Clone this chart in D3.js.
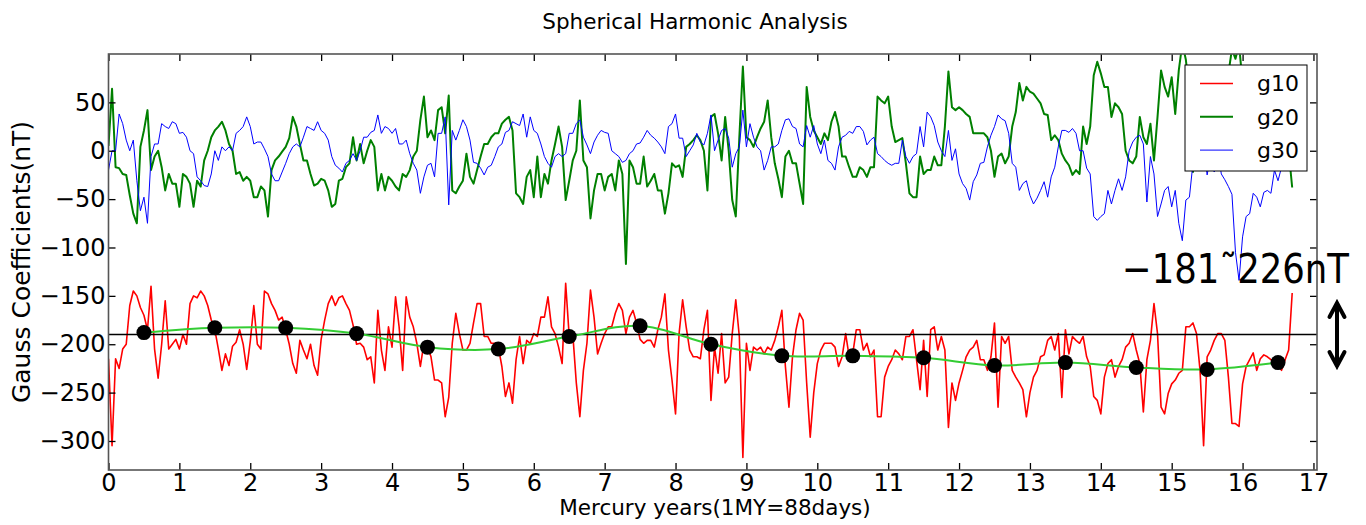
<!DOCTYPE html>
<html><head><meta charset="utf-8">
<script src="https://cdn.jsdelivr.net/npm/d3@7"></script>
<style>body{margin:0;background:#fff} svg{display:block} text{font-family:"DejaVu Sans",sans-serif}</style>
</head><body>
<svg id="chart" width="1366" height="525"></svg>
<script>
const title = "Spherical Harmonic Analysis";
const xLabel = "Mercury years(1MY=88days)";
const yLabel = "Gauss Coefficients(nT)";
const seriesNames = ["g10", "g20", "g30"];
const sampleStep = 0.05; // MY between samples, first sample at 0

const g10 = [
-215,-305,-215,-225,-205,-200,-160,-145,-150,-162,-170,-185,-140,-205,-235,-200,-155,-205,-200,-195,
-205,-190,-200,-158,-150,-152,-145,-150,-160,-175,-185,-205,-227,-210,-222,-202,-198,-185,-200,-226,
-197,-160,-200,-205,-145,-148,-158,-165,-175,-172,-185,-200,-220,-230,-196,-206,-215,-200,-222,-232,
-195,-175,-158,-150,-160,-152,-150,-158,-165,-180,-200,-199,-203,-216,-213,-240,-165,-206,-227,-182,
-203,-151,-182,-227,-151,-172,-182,-199,-223,-199,-203,-213,-237,-237,-240,-275,-255,-199,-168,-189,
-206,-206,-199,-178,-158,-158,-192,-192,-199,-199,-203,-223,-254,-240,-261,-216,-192,-220,-196,-199,
-189,-192,-172,-172,-151,-182,-189,-203,-220,-137,-192,-189,-240,-275,-227,-199,-144,-172,-210,-199,
-189,-182,-182,-168,-158,-165,-189,-172,-165,-178,-195,-199,-196,-196,-203,-185,-172,-148,-206,-237,
-272,-189,-154,-182,-206,-213,-213,-215,-185,-165,-258,-203,-230,-189,-240,-234,-189,-154,-192,-317,
-199,-227,-203,-206,-203,-210,-203,-206,-196,-182,-165,-223,-265,-213,-185,-168,-175,-240,-296,-250,
-220,-206,-199,-199,-199,-203,-223,-213,-189,-213,-210,-185,-185,-206,-199,-213,-206,-275,-275,-234,
-223,-216,-206,-210,-216,-192,-192,-185,-216,-247,-196,-254,-185,-182,-206,-192,-206,-286,-240,-258,
-240,-227,-213,-206,-203,-196,-216,-216,-227,-213,-178,-265,-192,-199,-192,-227,-234,-240,-247,-275,
-250,-234,-227,-213,-211,-196,-192,-206,-189,-255,-185,-210,-192,-196,-199,-192,-213,-223,-254,-258,
-272,-234,-220,-216,-234,-223,-216,-203,-199,-189,-206,-220,-270,-216,-196,-158,-189,-265,-272,-251,
-241,-237,-230,-227,-182,-182,-178,-189,-227,-305,-213,-206,-196,-189,-189,-196,-234,-282,-282,-285,
-241,-223,-216,-209,-227,-215,-211,-213,-216,-216,-220,-227,-216,-206,-147
];

const g20 = [
5,64,-17,-18,-24,-25,-46,-65,-75,4,21,42,-20,-6,0,-17,-41,-24,-34,-34,
-58,-24,-27,-34,-58,-31,-37,-10,0,14,21,25,30,21,7,0,-24,-22,-31,-27,
-31,-48,-48,-37,-41,-68,-20,-10,-6,-1,4,13,35,25,7,-10,-10,-24,-36,-34,
-29,-31,-41,-58,-55,-31,-29,-17,-13,14,-10,7,-13,0,11,4,-41,-24,-41,-27,
-31,-37,-41,-24,-27,-20,-6,0,32,56,14,21,11,42,45,18,57,-41,-44,-37,
-31,-3,-27,-34,-20,-6,7,7,14,18,18,28,32,35,21,-44,-48,-55,-27,-20,
-48,-6,-48,-24,-34,-10,7,25,4,-51,-31,-10,0,52,-10,-17,-70,-41,-24,-24,
-41,-27,-24,-41,-10,-24,-117,-10,-17,-34,-34,-6,-37,-31,-24,-41,-41,-65,-44,-13,
-17,-15,-27,4,7,11,16,11,0,-41,35,38,18,-10,35,0,-51,-68,14,87,
14,11,4,14,23,30,52,14,-13,-29,-48,-6,0,-13,-13,-34,-55,66,35,21,
14,7,18,11,30,40,25,-6,-6,-17,-27,-27,-17,-20,-27,-17,-17,56,52,49,
56,25,9,11,13,-13,-44,-48,-48,-6,-24,-20,-20,-6,-15,-15,25,82,45,42,
45,42,38,35,18,18,18,18,14,0,-27,-6,-3,-13,-6,25,40,70,52,66,
61,59,54,49,38,37,11,16,11,-3,-10,-15,-25,-20,-24,25,7,25,78,92,
80,66,66,35,49,45,38,0,-10,-13,-6,35,14,7,28,-10,35,83,66,56,
76,38,83,111,94,60,-22,20,45,30,55,40,60,50,70,55,80,105,95,110,
70,50,30,40,20,35,10,25,0,15,-5,10,-10,0,-38
];

const g30 = [
-20,0,0,38,28,11,0,11,-31,-62,-48,-75,-6,7,7,28,25,23,30,28,
18,19,14,0,-3,-27,-31,-36,-37,-24,0,-10,4,0,4,0,18,21,25,35,
25,7,9,9,2,-6,-24,-31,-31,-22,-13,-3,4,7,4,14,25,23,21,30,
21,18,11,-6,-15,-18,-22,-13,-10,-3,-10,0,14,14,19,21,37,18,25,23,
18,23,7,7,11,-3,-13,-20,-44,-27,-15,-13,-27,18,18,35,-56,21,11,21,
32,25,11,-12,-13,-18,-25,-17,-15,-6,4,7,19,21,30,28,26,38,14,35,
21,18,7,-6,-13,-17,-6,-3,-6,-3,18,18,28,32,14,6,-3,9,16,21,
19,18,0,-3,-6,-12,-10,-3,0,7,8,14,21,16,13,9,4,-3,25,28,
38,13,13,-6,0,6,18,9,6,18,37,0,11,21,23,13,-17,-3,4,42,
4,28,14,4,0,-20,-10,4,4,7,21,32,33,25,23,7,4,26,14,26,
7,-3,11,-10,-13,-20,4,14,16,20,18,25,25,20,6,11,14,-3,-6,-10,
-13,-15,-13,-13,11,-6,-13,-6,-3,25,4,40,35,26,9,0,-6,21,-10,2,
-24,-34,-39,-51,-32,-25,-13,-12,4,16,25,37,33,31,18,-13,-17,-41,-34,-31,
-46,-55,-49,-41,-32,-48,-27,-17,4,21,21,19,23,18,0,0,-18,-24,-68,-72,
-68,-65,-41,-55,-41,-29,-41,-27,0,9,14,16,7,-53,-6,-24,-68,-55,-41,-37,
-58,-41,-75,-93,-51,-48,-13,-20,-10,5,-25,-5,-22,0,-24,-30,-37,-45,-105,-134,
-89,-68,-65,-44,-48,-58,-43,-41,-44,-20,-31,-17,-5,5,-10
];

const meanYears = [0.5,1.5,2.5,3.5,4.5,5.5,6.5,7.5,8.5,9.5,10.5,11.5,12.5,13.5,14.5,15.5,16.5];
const meanValues = [-188,-183,-183,-189,-203,-205,-192,-181,-200,-212,-212,-214,-222,-219,-224,-226,-219];
const referenceLevel = -190;
const rangeText = "\u2212181\u02DC226nT";
const xTickValues = [0,1,2,3,4,5,6,7,8,9,10,11,12,13,14,15,16,17];
const yTickValues = [50,0,-50,-100,-150,-200,-250,-300];

const M = {l: 108.5, r: 1317, t: 54, b: 470};
const x = d3.scaleLinear().domain([0, 17.05]).range([M.l, M.r]);
const y = d3.scaleLinear().domain([-330, 100]).range([M.b, M.t]);
const svg = d3.select("#chart");

svg.append("defs").append("clipPath").attr("id", "clip")
  .append("rect").attr("x", M.l).attr("y", M.t).attr("width", M.r - M.l).attr("height", M.b - M.t);

const plot = svg.append("g").attr("clip-path", "url(#clip)");
const line = d3.line().x((d, i) => x(i * sampleStep)).y(d => y(d));
const styles = [
  {data: g10, color: "#ff0000", w: 1.6},
  {data: g20, color: "#008000", w: 2},
  {data: g30, color: "#0000ff", w: 1}
];
styles.forEach(s => {
  plot.append("path").datum(s.data).attr("d", line)
    .attr("fill", "none").attr("stroke", s.color).attr("stroke-width", s.w)
    .attr("stroke-linejoin", "round");
});

plot.append("line").attr("x1", x(0)).attr("x2", x(17.05))
  .attr("y1", y(referenceLevel)).attr("y2", y(referenceLevel))
  .attr("stroke", "#000").attr("stroke-width", 1.6);

const meanPts = meanYears.map((t, i) => [t, meanValues[i]]);
plot.append("path").datum(meanPts)
  .attr("d", d3.line().x(d => x(d[0])).y(d => y(d[1])).curve(d3.curveCatmullRom))
  .attr("fill", "none").attr("stroke", "#33cc33").attr("stroke-width", 2);
plot.selectAll("circle.mean").data(meanPts).join("circle")
  .attr("cx", d => x(d[0])).attr("cy", d => y(d[1])).attr("r", 7.5).attr("fill", "#000");

// axes
function styleAxis(g) {
  g.select(".domain").remove();
  g.selectAll(".tick line").attr("stroke", "#000").attr("stroke-width", 1.3);
  g.selectAll(".tick text").attr("font-family", "DejaVu Sans").attr("font-size", 24).attr("fill", "#000");
}
svg.append("g").attr("transform", `translate(${M.l},0)`)
  .call(d3.axisLeft(y).tickValues(yTickValues).tickSize(-7).tickPadding(3)).call(styleAxis);
svg.append("g").attr("transform", `translate(${M.r},0)`)
  .call(d3.axisRight(y).tickValues(yTickValues).tickSize(-7).tickFormat("")).call(styleAxis);
svg.append("g").attr("transform", `translate(0,${M.b})`)
  .call(d3.axisBottom(x).tickValues(xTickValues).tickSize(-7).tickPadding(4).tickFormat(d3.format("d"))).call(styleAxis);
svg.append("g").attr("transform", `translate(0,${M.t})`)
  .call(d3.axisTop(x).tickValues(xTickValues).tickSize(-7).tickFormat("")).call(styleAxis);

svg.append("rect").attr("x", M.l).attr("y", M.t).attr("width", M.r - M.l).attr("height", M.b - M.t)
  .attr("fill", "none").attr("stroke", "#555").attr("stroke-width", 1.6);

// labels
svg.append("text").attr("x", 695).attr("y", 29).attr("text-anchor", "middle")
  .attr("font-size", 21.5).text(title);
svg.append("text").attr("x", 715).attr("y", 515).attr("text-anchor", "middle")
  .attr("font-size", 21.5).text(xLabel);
svg.append("text").attr("transform", "translate(30,262) rotate(-90)").attr("text-anchor", "middle")
  .attr("font-size", 25).text(yLabel);

// legend
const lg = svg.append("g");
lg.append("rect").attr("x", 1185).attr("y", 65).attr("width", 122).attr("height", 106)
  .attr("fill", "#fff").attr("stroke", "#000").attr("stroke-width", 1);
styles.forEach((s, i) => {
  const yy = 83.5 + i * 33.3;
  lg.append("line").attr("x1", 1200).attr("x2", 1233).attr("y1", yy).attr("y2", yy)
    .attr("stroke", s.color).attr("stroke-width", s.w);
  lg.append("text").attr("x", 1257).attr("y", yy).attr("dy", "0.35em")
    .attr("font-size", 22).text(seriesNames[i]);
});

// range annotation (vertically stretched like the reference)
svg.append("g").attr("transform", "translate(0,283) scale(1,1.15)")
  .append("text").attr("x", 1122).attr("y", 0).attr("font-size", 36)
  .attr("textLength", 227).attr("lengthAdjust", "spacingAndGlyphs").text(rangeText);

// double arrow
const ax = 1337, ay1 = 302, ay2 = 367;
svg.append("path")
  .attr("d", `M${ax},${ay1 + 1}L${ax},${ay2 - 1}M${ax - 7.5},${ay1 + 15}L${ax},${ay1 + 1}L${ax + 7.5},${ay1 + 15}M${ax - 7.5},${ay2 - 15}L${ax},${ay2 - 1}L${ax + 7.5},${ay2 - 15}`)
  .attr("fill", "none").attr("stroke", "#000").attr("stroke-width", 4).attr("stroke-linecap", "round");
</script>
</body></html>
